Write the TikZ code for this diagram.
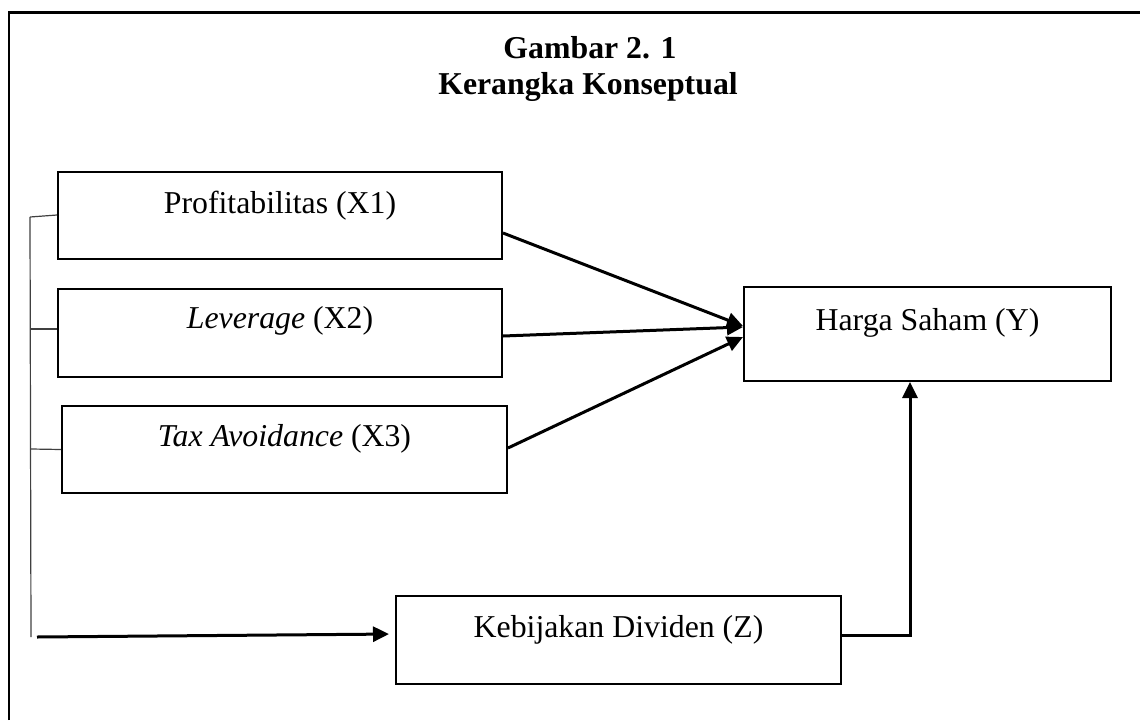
\documentclass[tikz,border=0pt]{standalone}
\usepackage{fontspec}
\setmainfont{Liberation Serif}
\usetikzlibrary{arrows.meta,calc}
\begin{document}
\begin{tikzpicture}[x=1pt,y=-1pt,
  vbox/.style={draw, line width=2pt, inner sep=0pt, anchor=center,
    font=\fontsize{31.8}{38}\selectfont},
  arr/.style={line width=3pt, -{Triangle[length=16pt,width=15pt]}},
  thin/.style={line width=1.2pt, black!75},
  ttl/.style={anchor=base, inner sep=0pt, font=\fontsize{31.8}{38}\selectfont\bfseries}]
\useasboundingbox (0,0) rectangle (1140,720);
% frame (only top and left visible)
\draw[line width=2.4pt] (9,720) -- (9,12.5) -- (1140,12.5);
% title
\node[ttl] (t1) at (590,58) {Gambar 2. 1};
\node[ttl] (t2) at (588,94) {Kerangka Konseptual};
% boxes
\node[vbox, minimum width=444pt, text height=41pt, text depth=46pt] (x1) at (280,215.5) {Profitabilitas (X1)};
\node[vbox, minimum width=444pt, text height=39pt, text depth=49pt] (x2) at (280,333) {\textit{Leverage} (X2)};
\node[vbox, minimum width=445pt, text height=40pt, text depth=47pt] (x3) at (284.5,449.5) {\textit{Tax Avoidance} (X3)};
\node[vbox, minimum width=367pt, text height=43pt, text depth=51pt] (y) at (927.5,334) {Harga Saham (Y)};
\node[vbox, minimum width=445pt, text height=41pt, text depth=47pt] (z) at (618.5,640) {Kebijakan Dividen (Z)};
% arrows to Y
\draw[arr] ([yshift=-17.5pt]x1.east) -- ([yshift=8pt]y.west);
\draw[arr] ([yshift=-3pt]x2.east) -- ([yshift=7pt]y.west);
\draw[arr] ([yshift=1.5pt]x3.east) -- ([yshift=-3pt]y.west);
\draw[arr] ([yshift=5pt]z.east) -| ([xshift=-17.5pt]y.south);
% bracket
\coordinate (btop) at (30,217);
\coordinate (bbot) at (31,637);
\coordinate (b2) at (31,329);
\coordinate (b3) at (31,449);
\coordinate (astart) at (37,637);
\draw[thin] (btop) -- (bbot);
\draw[thin] (btop) -- ([yshift=0.5pt]x1.west);
\draw[thin] (b2) -- ([yshift=4pt]x2.west);
\draw[thin] (b3) -- (x3.west);
\draw[arr, shorten >=6pt] (astart) -- ([yshift=6pt]z.west);
\end{tikzpicture}
\end{document}
